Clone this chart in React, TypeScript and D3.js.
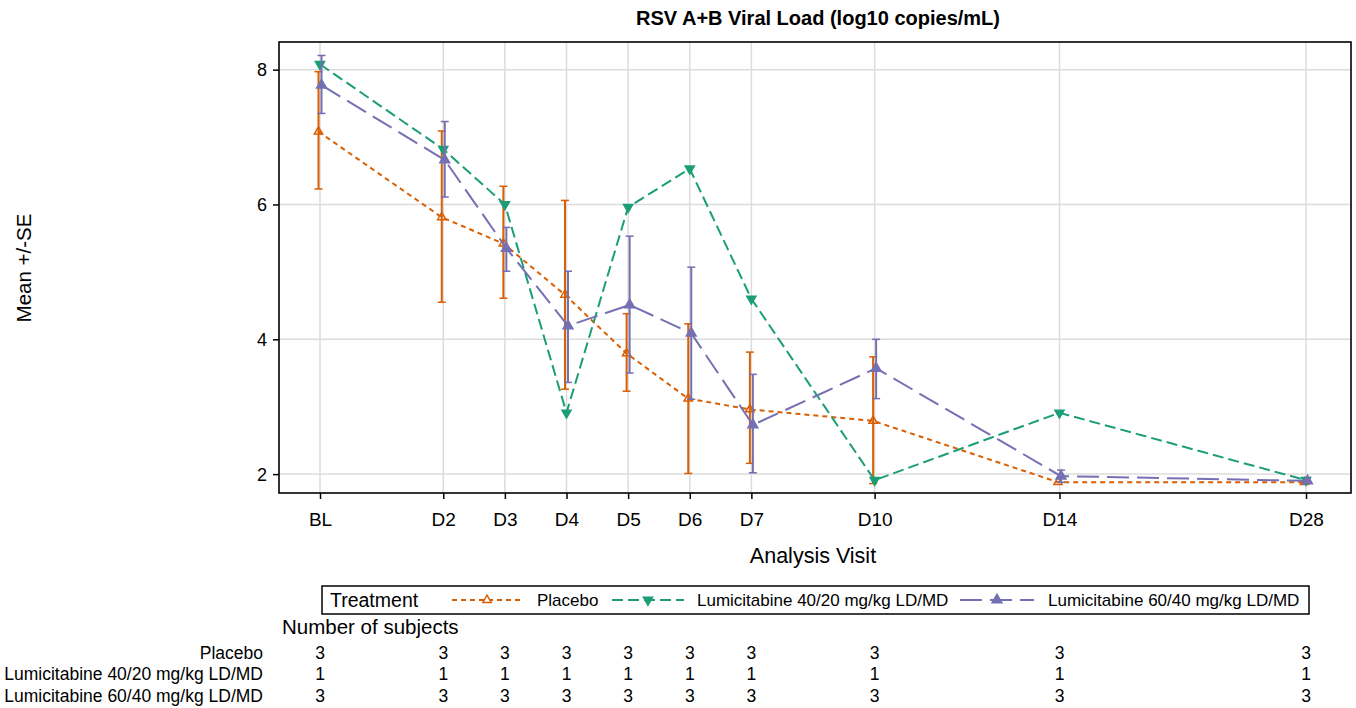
import React, { useEffect, useRef } from 'react';
import * as d3 from 'd3';

// visits on the x axis and their slot on the (uneven) visit scale
const visits = ['BL', 'D2', 'D3', 'D4', 'D5', 'D6', 'D7', 'D10', 'D14', 'D28'];
const visitSlot = [0, 2, 3, 4, 5, 6, 7, 9, 12, 16];
const yTicks = [2, 4, 6, 8];

// Placebo mean +/- SE
const placeboMean = [7.08, 5.81, 5.42, 4.66, 3.79, 3.12, 2.96, 2.79, 1.88, 1.88];
const placeboLow = [6.23, 4.55, 4.61, 3.26, 3.23, 2.01, 2.16, 1.86, 1.88, 1.88];
const placeboHigh = [7.97, 7.09, 6.27, 6.06, 4.38, 4.23, 3.81, 3.74, 1.88, 1.88];

// Lumicitabine 40/20 (single subject, no SE)
const lumi40Mean = [8.08, 6.82, 6.0, 2.91, 5.96, 6.53, 4.6, 1.91, 2.91, 1.91];

// Lumicitabine 60/40 mean +/- SE
const lumi60Mean = [7.77, 6.66, 5.35, 4.2, 4.51, 4.09, 2.73, 3.57, 1.97, 1.9];
const lumi60Low = [7.35, 6.11, 5.01, 3.36, 3.5, 3.11, 2.02, 3.12, 1.88, 1.9];
const lumi60High = [8.21, 7.23, 5.66, 5.01, 5.53, 5.07, 3.48, 4.0, 2.06, 1.9];

// number of subjects
const nPlacebo = [3, 3, 3, 3, 3, 3, 3, 3, 3, 3];
const nLumi40 = [1, 1, 1, 1, 1, 1, 1, 1, 1, 1];
const nLumi60 = [3, 3, 3, 3, 3, 3, 3, 3, 3, 3];

const groupNames = ['Placebo', 'Lumicitabine 40/20 mg/kg LD/MD', 'Lumicitabine 60/40 mg/kg LD/MD'];

const FONT = '"Liberation Sans", Arial, sans-serif';

export default function App() {
  const ref = useRef<SVGSVGElement>(null);

  useEffect(() => {
    const width = 1356;
    const height = 708;
    const left = 279, right = 1351, top = 42, bottom = 493;

    const svg = d3.select(ref.current).attr('width', width).attr('height', height);
    svg.selectAll('*').remove();

    const x = d3.scaleLinear().domain([0, 16]).range([320, 1306]);
    const y = d3.scaleLinear().domain([1.72, 8.41]).range([bottom, top]);

    const series = [
      { name: groupNames[0], mean: placeboMean, low: placeboLow, high: placeboHigh, color: '#d95f02', dash: '5,4', marker: 'up', filled: false, size: 30, dx: -1.5 },
      { name: groupNames[1], mean: lumi40Mean, low: null, high: null, color: '#1b9e77', dash: '11,5', marker: 'down', filled: true, size: 36, dx: 0 },
      { name: groupNames[2], mean: lumi60Mean, low: lumi60Low, high: lumi60High, color: '#7570b3', dash: '22,8', marker: 'up', filled: true, size: 42, dx: 1.5 },
    ];

    // grid
    const grid = svg.append('g');
    grid.selectAll('line.v').data(visitSlot).join('line')
      .attr('x1', d => x(d)).attr('x2', d => x(d))
      .attr('y1', top).attr('y2', bottom)
      .attr('stroke', '#dcdcdc').attr('stroke-width', 1.5);
    grid.selectAll('line.h').data(yTicks).join('line')
      .attr('x1', left).attr('x2', right)
      .attr('y1', d => y(d)).attr('y2', d => y(d))
      .attr('stroke', '#dcdcdc').attr('stroke-width', 1.5);

    // axes
    const yAxis = d3.axisLeft(y).tickValues(yTicks).tickSize(6).tickPadding(6).tickFormat(d3.format('d'));
    const gy = svg.append('g').attr('transform', `translate(${left},0)`).call(yAxis);
    const xAxis = d3.axisBottom(x).tickValues(visitSlot).tickSize(6).tickPadding(14)
      .tickFormat((d, i) => visits[i]);
    const gx = svg.append('g').attr('transform', `translate(0,${bottom})`).call(xAxis);
    [gy, gx].forEach(g => {
      g.select('.domain').remove();
      g.selectAll('line').attr('stroke', '#000').attr('stroke-width', 1.5);
      g.selectAll('text').attr('font-family', FONT).attr('fill', '#000');
    });
    gy.selectAll('text').attr('font-size', 18).attr('dy', '0.35em');
    gx.selectAll('text').attr('font-size', 19);

    // frame
    svg.append('rect')
      .attr('x', left).attr('y', top).attr('width', right - left).attr('height', bottom - top)
      .attr('fill', 'none').attr('stroke', '#000').attr('stroke-width', 1.6);

    const markerPath = (s: any) => d3.symbol(d3.symbolTriangle, s.size)();

    series.forEach(s => {
      const g = svg.append('g');
      // error bars
      if (s.low && s.high) {
        const idx = d3.range(visits.length).filter(i => s.high![i] - s.low![i] > 0.02);
        g.selectAll('line.err').data(idx).join('line')
          .attr('x1', i => x(visitSlot[i]) + s.dx).attr('x2', i => x(visitSlot[i]) + s.dx)
          .attr('y1', i => y(s.low![i])).attr('y2', i => y(s.high![i]))
          .attr('stroke', s.color).attr('stroke-width', 2);
        ['low', 'high'].forEach(k => {
          g.selectAll('line.cap' + k).data(idx).join('line')
            .attr('x1', i => x(visitSlot[i]) + s.dx - 4).attr('x2', i => x(visitSlot[i]) + s.dx + 4)
            .attr('y1', i => y((s as any)[k][i])).attr('y2', i => y((s as any)[k][i]))
            .attr('stroke', s.color).attr('stroke-width', 1.5);
        });
      }
      const line = d3.line<number>()
        .x((d, i) => x(visitSlot[i]) + s.dx)
        .y(d => y(d));
      g.append('path').datum(s.mean).attr('d', line)
        .attr('fill', 'none').attr('stroke', s.color).attr('stroke-width', 2)
        .attr('stroke-dasharray', s.dash);
      g.selectAll('path.mk').data(s.mean).join('path')
        .attr('d', markerPath(s))
        .attr('transform', (d, i) => `translate(${x(visitSlot[i]) + s.dx},${y(d)}) rotate(${s.marker === 'down' ? 180 : 0})`)
        .attr('fill', s.filled ? s.color : 'none')
        .attr('stroke', s.color).attr('stroke-width', 1.5);
    });

    // title and axis labels
    svg.append('text').attr('x', 818).attr('y', 25).attr('text-anchor', 'middle')
      .attr('font-family', FONT).attr('font-size', 20).attr('font-weight', 'bold')
      .text('RSV A+B Viral Load (log10 copies/mL)');
    svg.append('text').attr('transform', 'translate(31,268) rotate(-90)').attr('text-anchor', 'middle')
      .attr('font-family', FONT).attr('font-size', 20.5).text('Mean +/-SE');
    svg.append('text').attr('x', 813).attr('y', 563).attr('text-anchor', 'middle')
      .attr('font-family', FONT).attr('font-size', 21.5).text('Analysis Visit');

    // legend
    const lg = svg.append('g');
    lg.append('rect').attr('x', 322).attr('y', 586).attr('width', 987).attr('height', 28)
      .attr('fill', '#fff').attr('stroke', '#000').attr('stroke-width', 1.5);
    lg.append('text').attr('x', 330).attr('y', 607).attr('font-family', FONT).attr('font-size', 19.5)
      .text('Treatment');
    const legendPos = [
      { x0: 452, x1: 522, tx: 537 },
      { x0: 612, x1: 684, tx: 697 },
      { x0: 960, x1: 1034, tx: 1048 },
    ];
    series.forEach((s, i) => {
      const p = legendPos[i];
      lg.append('line').attr('x1', p.x0).attr('x2', p.x1).attr('y1', 600).attr('y2', 600)
        .attr('stroke', s.color).attr('stroke-width', 2).attr('stroke-dasharray', s.dash);
      lg.append('path').attr('d', markerPath(s))
        .attr('transform', `translate(${(p.x0 + p.x1) / 2},600) rotate(${s.marker === 'down' ? 180 : 0})`)
        .attr('fill', s.filled ? s.color : '#fff').attr('stroke', s.color).attr('stroke-width', 1.5);
      lg.append('text').attr('x', p.tx).attr('y', 606).attr('font-family', FONT).attr('font-size', 17)
        .text(s.name);
    });

    // number of subjects table
    svg.append('text').attr('x', 282).attr('y', 634).attr('font-family', FONT).attr('font-size', 20.5)
      .text('Number of subjects');
    const counts = [nPlacebo, nLumi40, nLumi60];
    const rowY = [659, 680, 702];
    counts.forEach((row, r) => {
      svg.append('text').attr('x', 263).attr('y', rowY[r]).attr('text-anchor', 'end')
        .attr('font-family', FONT).attr('font-size', 17.5).text(groupNames[r]);
      svg.append('g').selectAll('text').data(row).join('text')
        .attr('x', (d, i) => x(visitSlot[i])).attr('y', rowY[r]).attr('text-anchor', 'middle')
        .attr('font-family', FONT).attr('font-size', 17.5).text(d => d);
    });
  }, []);

  return (
    <div>
      <svg ref={ref} style={{ position: 'absolute', left: 0, top: 0, background: '#fff' }} />
    </div>
  );
}
